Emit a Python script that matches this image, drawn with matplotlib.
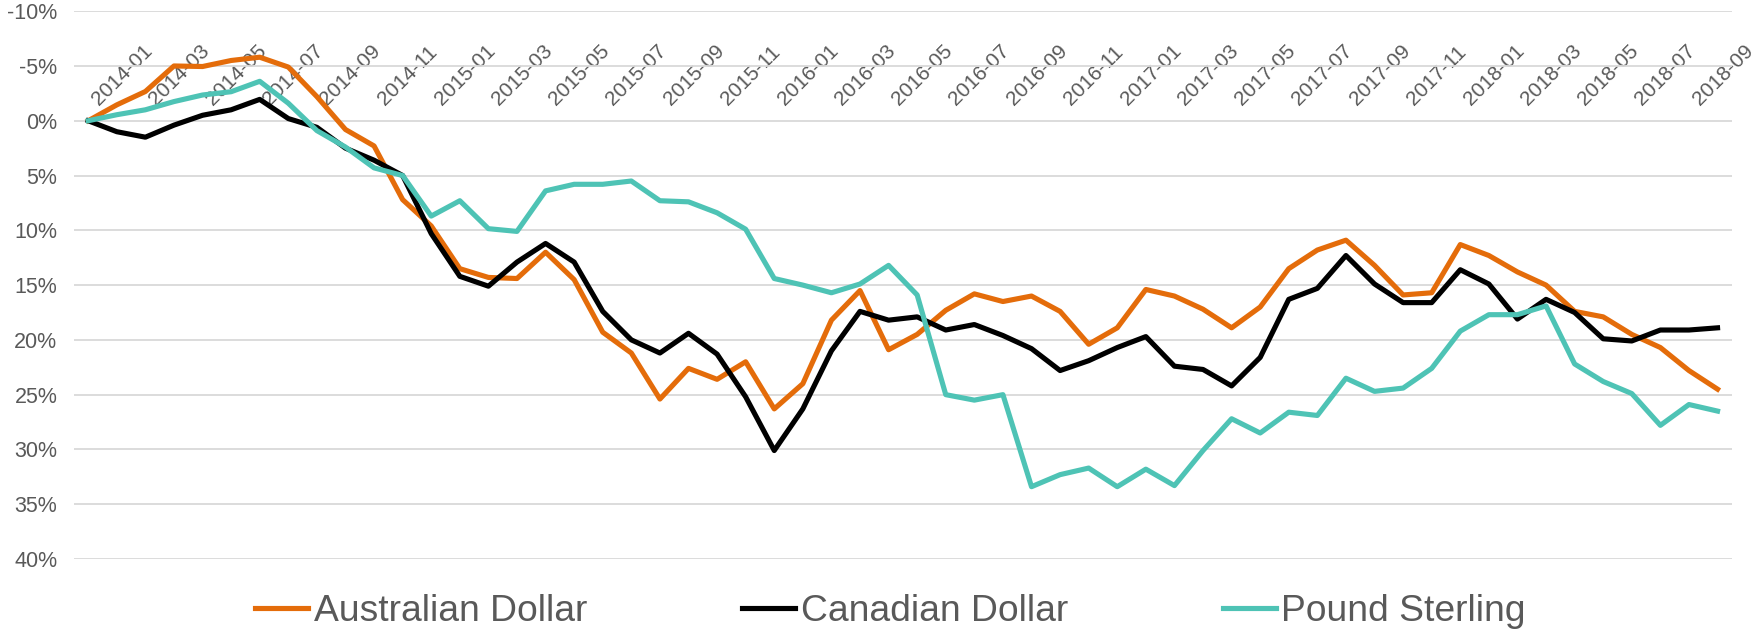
import matplotlib
matplotlib.use("Agg")
import matplotlib.pyplot as plt
import numpy as np
import pandas as pd

# Monthly categories, 2014-01 .. 2018-10
months = list(pd.date_range("2014-01-01", periods=58, freq="MS").strftime("%Y-%m"))

# Change vs. Jan 2014, in percent (axis is inverted: up = stronger)
aud = [0, -1.45, -2.67, -5.0, -4.95, -5.5, -5.8, -4.9, -2.2, 0.8,
       2.3, 7.2, 9.6, 13.5, 14.3, 14.4, 12.0, 14.5, 19.3, 21.2,
       25.4, 22.6, 23.6, 22.0, 26.3, 24.0, 18.2, 15.5, 20.9, 19.5,
       17.3, 15.8, 16.5, 16.0, 17.4, 20.4, 18.9, 15.4, 16.0, 17.2,
       18.9, 17.0, 13.5, 11.8, 10.9, 13.2, 15.9, 15.7, 11.3, 12.3,
       13.8, 15.0, 17.4, 17.9, 19.5, 20.7, 22.8, 24.5]

cad = [0, 1.0, 1.5, 0.4, -0.5, -1.0, -1.95, -0.2, 0.6, 2.5,
       3.6, 5.0, 10.3, 14.2, 15.1, 12.9, 11.2, 12.9, 17.4, 20.0,
       21.2, 19.4, 21.3, 25.2, 30.1, 26.3, 21.0, 17.4, 18.2, 17.9,
       19.1, 18.6, 19.6, 20.8, 22.8, 21.9, 20.7, 19.7, 22.4, 22.7,
       24.2, 21.6, 16.3, 15.3, 12.3, 14.9, 16.6, 16.6, 13.6, 14.9,
       18.1, 16.3, 17.5, 19.9, 20.1, 19.1, 19.1, 18.9]

gbp = [0, -0.55, -1.0, -1.75, -2.35, -2.65, -3.6, -1.6, 0.9, 2.4,
       4.3, 5.0, 8.7, 7.3, 9.85, 10.1, 6.4, 5.8, 5.8, 5.5,
       7.3, 7.4, 8.4, 9.9, 14.4, 15.0, 15.7, 14.9, 13.2, 15.9,
       25.0, 25.5, 25.0, 33.4, 32.3, 31.7, 33.4, 31.8, 33.3, 30.1,
       27.2, 28.5, 26.6, 26.9, 23.5, 24.7, 24.4, 22.6, 19.2, 17.7,
       17.7, 16.9, 22.2, 23.8, 24.9, 27.8, 25.9, 26.5]

series_names = ["Australian Dollar", "Canadian Dollar", "Pound Sterling"]
colors = ["#E46C0A", "#000000", "#4EC3B5"]
text_color = "#595959"

plt.rcParams["font.family"] = ["Liberation Sans", "DejaVu Sans"]

fig = plt.figure(figsize=(17.6, 6.32), dpi=100)
ax = fig.add_axes([0.042, 0.1155, 0.942, 0.8668])

x = np.arange(len(months))
for vals, name, c in zip([aud, cad, gbp], series_names, colors):
    ax.plot(x, vals, color=c, lw=3.7, label=name)

ax.set_xlim(-0.5, len(months) - 0.5)
ax.set_ylim(40, -10)

yt = list(range(-10, 45, 5))
ax.set_yticks(yt, [f"{v}%" for v in yt])
ax.grid(axis="y", color="#D9D9D9", lw=1.3)

for s in ["left", "right", "bottom"]:
    ax.spines[s].set_visible(False)
# category labels sit just above the 0% line
ax.spines["top"].set_position(("data", 0))
ax.spines["top"].set_visible(False)
ax.xaxis.tick_top()
ax.set_xticks(x[::2], months[::2], rotation=45, ha="left", va="top",
              rotation_mode="anchor")
ax.tick_params(axis="x", length=0, pad=18, labelsize=15, labelcolor=text_color)
ax.tick_params(axis="y", length=0, pad=12, labelsize=15.5, labelcolor=text_color)

fig.legend(loc="center", bbox_to_anchor=(0.506, 0.032), ncol=3, frameon=False,
           fontsize=26.8, handlelength=1.42, handletextpad=0.15, columnspacing=4.16,
           labelcolor=text_color)

fig.savefig("out.png", dpi=100)
